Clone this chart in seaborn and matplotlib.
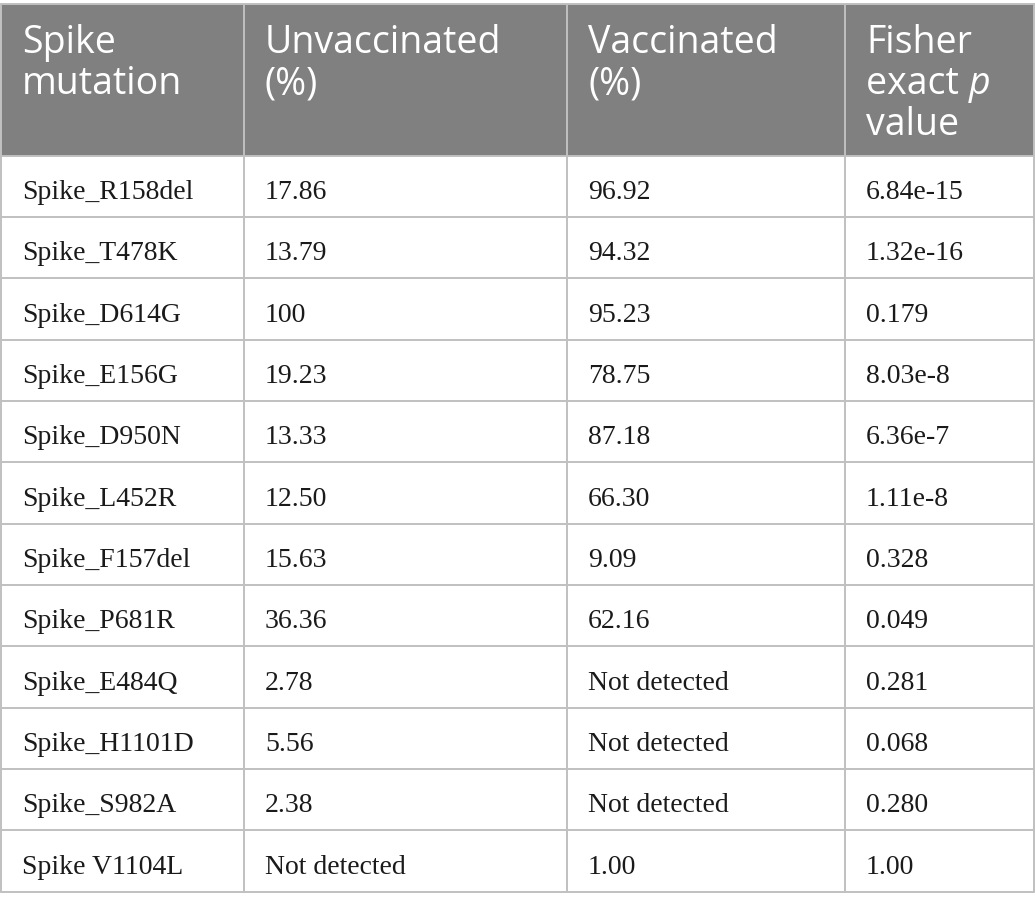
import matplotlib
matplotlib.use("Agg")
import matplotlib.pyplot as plt
import seaborn as sns
import pandas as pd

sns.set_theme(style="white")

# table content
mutations = ["Spike_R158del", "Spike_T478K", "Spike_D614G", "Spike_E156G",
             "Spike_D950N", "Spike_L452R", "Spike_F157del", "Spike_P681R",
             "Spike_E484Q", "Spike_H1101D", "Spike_S982A", "Spike V1104L"]
unvaccinated = ["17.86", "13.79", "100", "19.23", "13.33", "12.50", "15.63",
                "36.36", "2.78", "5.56", "2.38", "Not detected"]
vaccinated = ["96.92", "94.32", "95.23", "78.75", "87.18", "66.30", "9.09",
              "62.16", "Not detected", "Not detected", "Not detected", "1.00"]
fisher_p = ["6.84e-15", "1.32e-16", "0.179", "8.03e-8", "6.36e-7", "1.11e-8",
            "0.328", "0.049", "0.281", "0.068", "0.280", "1.00"]
headers = [["Spike", "mutation"], ["Unvaccinated", "(%)"],
           ["Vaccinated", "(%)"], ["Fisher", "exact ", "value"]]

df = pd.DataFrame({"mut": mutations, "unvac": unvaccinated,
                   "vac": vaccinated, "p": fisher_p})

# layout in pixels
W, H = 1035, 907
col_edges = [1, 244, 567, 845, 1034]
top, head_bottom, bottom = 4, 155.5, 891.5
row_h = (bottom - head_bottom) / len(df)
grid_col = "#c0c0c0"
head_col = "#808080"

fig = plt.figure(figsize=(W / 100, H / 100), dpi=100)
ax = fig.add_axes([0, 0, 1, 1])
ax.set_xlim(0, W)
ax.set_ylim(H, 0)
ax.axis("off")

ax.add_patch(plt.Rectangle((col_edges[0], top), col_edges[-1] - col_edges[0],
                           head_bottom - top, color=head_col, lw=0))

# grid lines
for i in range(len(df) + 1):
    y = head_bottom + i * row_h
    ax.plot([col_edges[0], col_edges[-1]], [y, y], color=grid_col, lw=1.4)
ax.plot([col_edges[0], col_edges[-1]], [top, top], color=grid_col, lw=1.4)
for x in col_edges:
    ax.plot([x, x], [top, bottom], color=grid_col, lw=1.4, zorder=3)

# header
head_font = ["Open Sans", "DejaVu Sans"]
pad = 21
renderer = fig.canvas.get_renderer()
for j, lines in enumerate(headers):
    for k, line in enumerate(lines):
        t = ax.text(col_edges[j] + pad, 53 + k * 41, line, color="white",
                    fontsize=27, family=head_font, va="baseline", ha="left")
        if line == "exact ":
            bb = t.get_window_extent(renderer)
            ax.text(col_edges[j] + pad + bb.width, 53 + k * 41, "p",
                    color="white", fontsize=27, family=head_font,
                    style="italic", va="baseline", ha="left")

# body
body_font = ["Liberation Serif", "DejaVu Serif"]
for i, row in enumerate(df.itertuples(index=False)):
    yb = head_bottom + i * row_h + 43.5
    for j, val in enumerate(row):
        ax.text(col_edges[j] + pad, yb, val, color="#1a1a1a",
                fontsize=20, family=body_font, va="baseline", ha="left")

fig.savefig("out.png", dpi=100, facecolor="white")
